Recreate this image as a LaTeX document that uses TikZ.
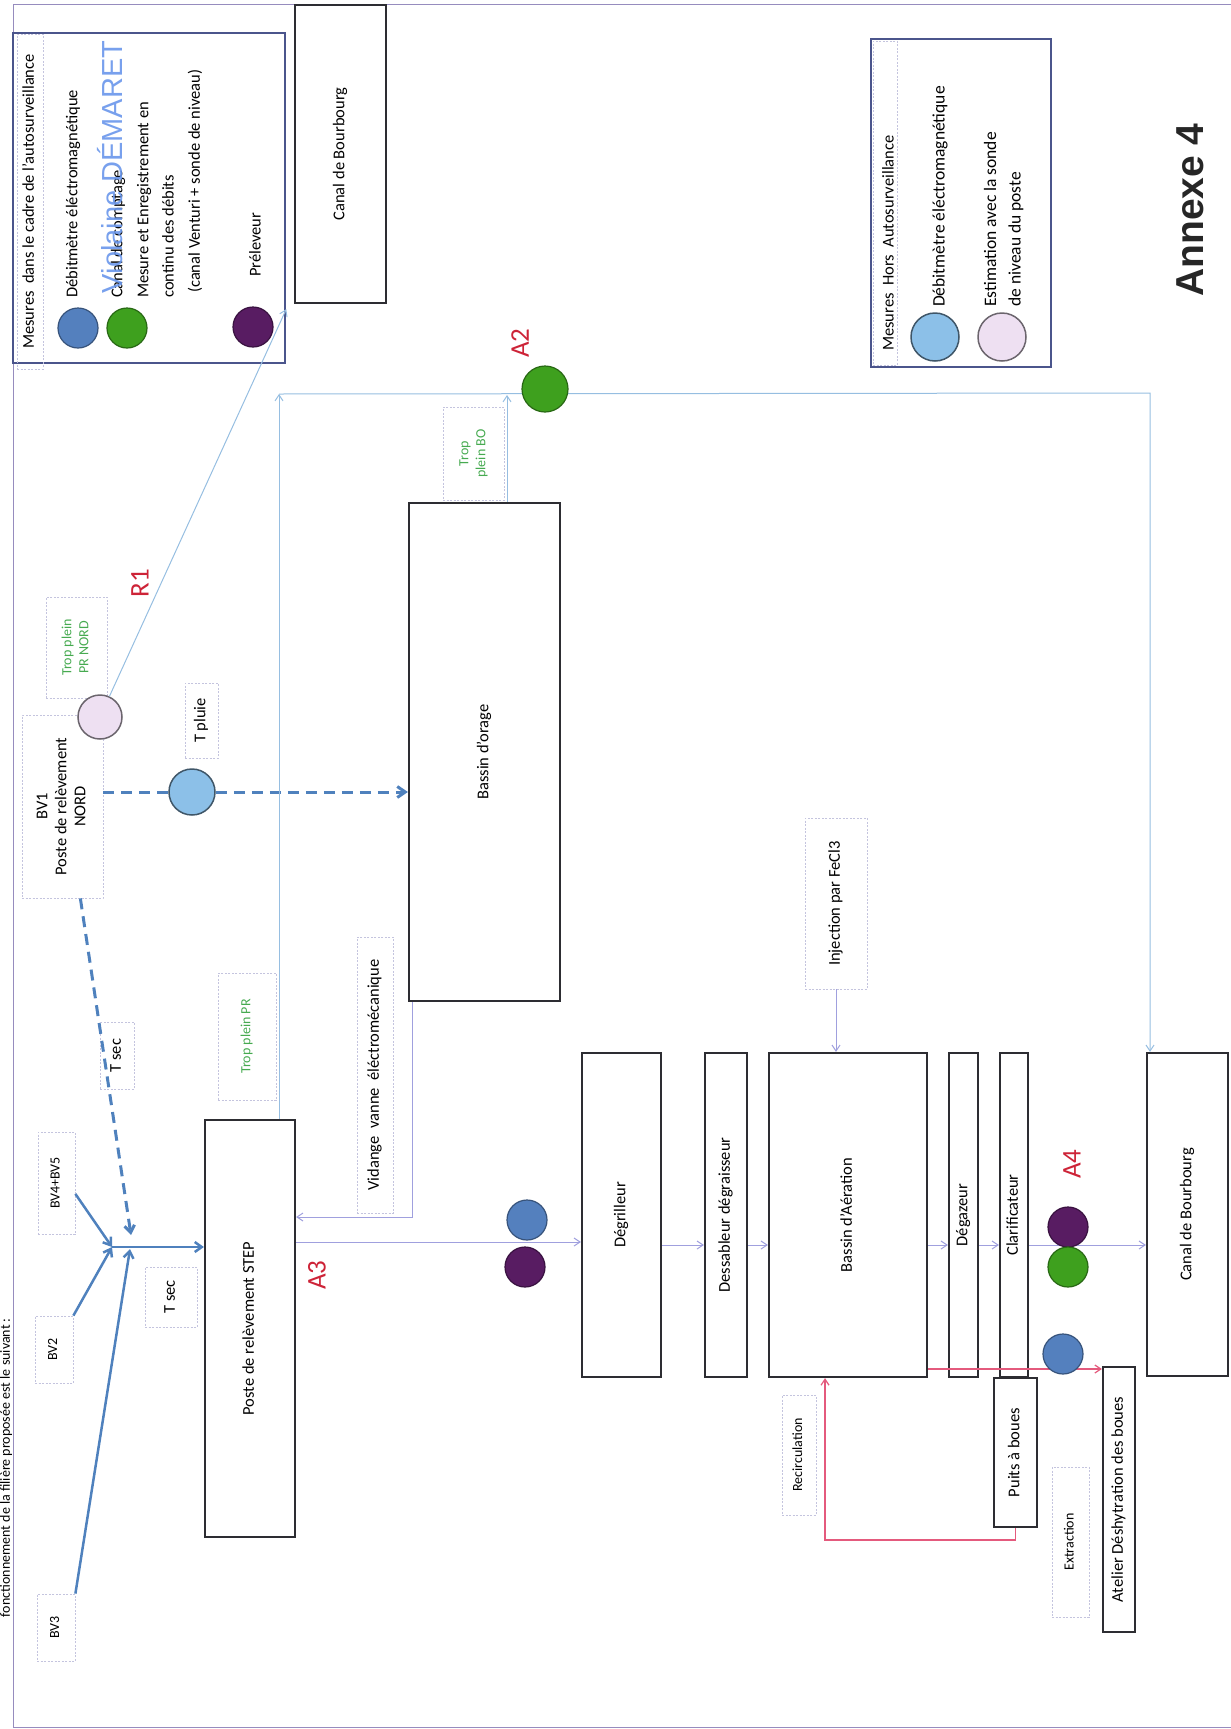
\documentclass[tikz,border=0pt]{standalone}
\usepackage{fontspec}
\setmainfont{Carlito}
\newfontfamily\arialfont{Liberation Sans}
\usepackage{graphicx}
\usetikzlibrary{arrows.meta,calc}
\definecolor{boxgray}{RGB}{45,45,50}
\definecolor{lblline}{RGB}{196,196,222}
\definecolor{flowline}{RGB}{160,160,222}
\definecolor{skyline}{RGB}{150,190,225}
\definecolor{bvblue}{RGB}{79,129,189}
\definecolor{sludgec}{RGB}{228,90,125}
\definecolor{mesblue}{RGB}{84,128,190}
\definecolor{mesgreen}{RGB}{62,160,30}
\definecolor{mespurple}{RGB}{88,28,98}
\definecolor{estblue}{RGB}{140,192,232}
\definecolor{estpink}{RGB}{238,224,242}
\definecolor{txtgreen}{RGB}{70,170,80}
\definecolor{labred}{RGB}{205,35,55}
\definecolor{stamp}{RGB}{105,150,235}
\definecolor{legline}{RGB}{75,85,140}
\definecolor{framec}{RGB}{150,140,190}
\newcommand{\vtxt}[1]{\rotatebox{90}{\begin{tabular}{@{}c@{}}#1\end{tabular}}}
\tikzset{
  unit/.style={draw=boxgray, line width=2.2pt, inner sep=0pt},
  lbl/.style={draw=lblline, line width=0.8pt, dash pattern=on 2pt off 1.5pt, inner sep=0pt},
  legbox/.style={draw=legline, line width=2.5pt, inner sep=0pt},
  txt/.style={inner sep=0pt},
  big/.style={font=\fontsize{17.5}{20}\selectfont},
  small/.style={font=\fontsize{14}{16}\selectfont},
  greentxt/.style={text=txtgreen, font=\fontsize{14}{17}\selectfont},
  tag/.style={text=labred, inner sep=0pt, font=\fontsize{27}{29}\selectfont},
  mes/.style={circle, fill=#1, draw=#1!65!black, line width=1.2pt, minimum size=40pt, inner sep=0pt},
  est/.style={circle, fill=#1, draw=#1!45!black, line width=1.5pt, minimum size=46pt, inner sep=0pt},
  flow/.style={draw=flowline, line width=1pt, -{Straight Barb[length=6pt,width=8pt]}},
  skyflow/.style={draw=skyline, line width=1pt, -{Straight Barb[length=6pt,width=8pt]}},
  bvflow/.style={draw=bvblue, line width=2.5pt, -{Straight Barb[length=7pt,width=10pt]}},
  bvdash/.style={draw=bvblue, line width=3pt, dash pattern=on 11pt off 7pt},
  sludge/.style={draw=sludgec, line width=1.2pt, -{Straight Barb[length=6pt,width=8pt]}}
}
\begin{document}
\begin{tikzpicture}[x=1pt, y=-1pt, every node/.style={font=\fontsize{16.5}{19}\selectfont}]
\useasboundingbox (0,0) rectangle (1231,1729);
\draw[framec, line width=1pt] (1231,4) -- (13,4) -- (13,1727) -- (1231,1727);
\node[txt, anchor=north west, font=\fontsize{14}{16}\selectfont] (intro) at (0,1318) {\rotatebox{90}{fonctionnement de la filière proposée est le suivant :}};

\node[legbox, minimum width=272pt, minimum height=330pt] (auto) at (149,198) {};
\node[lbl, minimum width=26pt, minimum height=335pt] (autohead) at (30,201.5) {\vtxt{Mesures\ \ dans le cadre de l'autosurveillance}};
\node[mes=mesblue] (lgblue) at (78,328) {};
\node[mes=mesgreen] (lggreen) at (127,328) {};
\node[mes=mespurple] (lgpurple) at (253,327) {};
\node[txt, anchor=south] (lt1) at (73,298) {\rotatebox{90}{Débitmètre éléctromagnétique}};
\node[txt, anchor=south] (lt2) at (118,298) {\rotatebox{90}{Canal de comptage}};
\node[txt, anchor=south] (lt3) at (144,298) {\rotatebox{90}{Mesure et Enregistrement en}};
\node[txt, anchor=south] (lt4) at (168,298) {\rotatebox{90}{continu des débits}};
\node[txt, anchor=south] (lt5) at (195,293) {\rotatebox{90}{(canal Venturi + sonde de niveau)}};
\node[txt, anchor=south] (lt6) at (255,277) {\rotatebox{90}{Préleveur}};
\node[txt, text=stamp, opacity=0.9, font=\arialfont\fontsize{29}{30}\selectfont] (stampmark) at (110,167) {\rotatebox{90}{Violaine DÉMARET}};

\node[unit, minimum width=91pt, minimum height=298pt] (canal1) at (340.5,154) {\vtxt{Canal de Bourbourg}};

\node[legbox, minimum width=180pt, minimum height=328pt] (hors) at (961,203) {};
\node[lbl, minimum width=24pt, minimum height=324pt] (horshead) at (885,203) {};
\node[txt, anchor=south] (ht0) at (888,351) {\rotatebox{90}{Mesures\ \ Hors\ \ Autosurveillance}};
\node[est=estblue, minimum size=48pt] (lgest1) at (935,337) {};
\node[est=estpink, minimum size=48pt] (lgest2) at (1002,337) {};
\node[txt, big, anchor=south] (ht1) at (940,307) {\rotatebox{90}{Débitmètre éléctromagnétique}};
\node[txt, big, anchor=south] (ht2) at (990,307) {\rotatebox{90}{Estimation avec la sonde}};
\node[txt, big, anchor=south] (ht3) at (1016,307) {\rotatebox{90}{de niveau du poste}};

\node[txt, text=black!85, font=\arialfont\bfseries\fontsize{39}{40}\selectfont] (annexe) at (1190,210) {\rotatebox{90}{Annexe 4}};

\node[lbl, minimum width=81pt, minimum height=183pt] (bv1) at (62.5,806.5) {\vtxt{BV1\\Poste de relèvement\\NORD}};
\node[lbl, greentxt, minimum width=61pt, minimum height=101pt] (tpnord) at (76.5,647.5) {\vtxt{Trop plein\\PR NORD}};
\node[est=estpink, minimum size=44pt] (mpr) at (100,717) {};
\node[tag] (r1) at (140,583) {\rotatebox{90}{R1}};
\node[lbl, minimum width=33pt, minimum height=75pt] (tpluie) at (201.5,720.5) {\vtxt{T pluie}};
\node[est=estblue] (mplu) at (192,792) {};
\node[unit, minimum width=151pt, minimum height=498pt] (bo) at (484.5,752) {\vtxt{Bassin d'orage}};
\node[lbl, greentxt, minimum width=61pt, minimum height=93pt] (tpbo) at (473.5,453.5) {\vtxt{Trop\\plein BO}};
\node[tag] (a2) at (520,343) {\rotatebox{90}{A2}};
\node[lbl, minimum width=36pt, minimum height=276pt] (vid) at (375,1075) {\vtxt{Vidange\ \ vanne\ \ éléctromécanique}};
\node[lbl, greentxt, minimum width=58pt, minimum height=127pt] (tppr) at (247,1036.5) {\vtxt{Trop plein PR}};
\node[lbl, minimum width=34pt, minimum height=67pt] (tsec1) at (117,1055.5) {\vtxt{T sec}};
\node[lbl, small, minimum width=37pt, minimum height=102pt] (bv45) at (56.5,1183) {\vtxt{BV4+BV5}};
\node[lbl, small, minimum width=38pt, minimum height=67pt] (bv2) at (54,1349.5) {\vtxt{BV2}};
\node[lbl, small, minimum width=38pt, minimum height=67pt] (bv3) at (56,1627.5) {\vtxt{BV3}};
\node[lbl, minimum width=52pt, minimum height=60pt] (tsec2) at (171,1297) {\vtxt{T sec}};
\node[unit, minimum width=90pt, minimum height=417pt] (step) at (250,1328.5) {\vtxt{Poste de relèvement STEP}};
\node[tag] (a3) at (317,1275) {\rotatebox{90}{A3}};

\node[unit, minimum width=79pt, minimum height=324pt] (degr) at (621.5,1215) {\vtxt{Dégrilleur}};
\node[unit, minimum width=42pt, minimum height=324pt] (dess) at (726,1215) {\vtxt{Dessableur dégraisseur}};
\node[unit, minimum width=158pt, minimum height=324pt] (aer) at (848,1215) {\vtxt{Bassin d'Aération}};
\node[unit, minimum width=29pt, minimum height=324pt] (degaz) at (963.5,1215) {\vtxt{Dégazeur}};
\node[unit, minimum width=28pt, minimum height=324pt] (clar) at (1014,1215) {\vtxt{Clarificateur}};
\node[unit, minimum width=81pt, minimum height=323pt] (canal2) at (1187.5,1214.5) {\vtxt{Canal de Bourbourg}};
\node[lbl, minimum width=62pt, minimum height=171pt] (fecl) at (836,903.5) {\vtxt{Injection par FeCl3}};
\node[unit, minimum width=43pt, minimum height=149pt] (puits) at (1015.5,1452.5) {\vtxt{Puits à boues}};
\node[unit, minimum width=32pt, minimum height=265pt] (atel) at (1119,1499.5) {\vtxt{Atelier\ Déshytration\ des\ boues}};
\node[lbl, small, minimum width=34pt, minimum height=120pt] (recirc) at (799,1455) {\vtxt{Recirculation}};
\node[lbl, small, minimum width=37pt, minimum height=150pt] (extr) at (1070.5,1542) {\vtxt{Extraction}};
\node[tag] (a4) at (1072,1164) {\rotatebox{90}{A4}};

\coordinate (jA) at (112,1247);
\coordinate (jB) at (130,1249);
\coordinate (jC) at (131,1235);
\draw[bvflow] (bv45.-30) -- (jA);
\draw[bvflow] (bv2.north east) -- (jA);
\draw[bvflow] (bv3.north east) -- (jB);
\draw[bvdash, -{Straight Barb[length=7pt,width=10pt]}] (bv1.-79) -- (jC);
\draw[bvflow] (jA) -- (jA -| step.west);
\draw[bvdash] (bv1.east |- mplu) -- (mplu);
\draw[bvdash, -{Straight Barb[length=8pt,width=11pt]}] (mplu) -- (mplu -| bo.west);

\draw[skyflow] (mpr) -- (auto.-39);
\coordinate (tpTop) at (279,394);
\coordinate (cR) at (1150,393);
\coordinate (boTop) at (507,395);
\draw[skyflow] (tpTop |- step.north) -- (tpTop);
\draw[skyflow] (boTop |- bo.north) -- (boTop);
\draw[skyflow] (tpTop) -- (cR) -- (cR |- canal2.north);

\coordinate (vidc) at (412,1217);
\draw[flow] (vidc |- bo.south) -- (vidc) -- (vidc -| step.east);
\coordinate (mainy) at (0,1242);
\draw[flow] (step.east |- mainy) -- (degr.west |- mainy);
\coordinate (procy) at (0,1245);
\foreach \a/\b in {degr/dess, dess/aer, aer/degaz, degaz/clar, clar/canal2}
  \draw[flow] (\a.east |- procy) -- (\b.west |- procy);
\draw[flow] (fecl.south) -- (fecl.south |- aer.north);

\coordinate (sly) at (0,1369);
\draw[sludge] (aer.east |- sly) -- (atel.west |- sly);
\coordinate (rc) at (825,1540);
\draw[sludge] (puits.south) -- (puits.south |- rc) -- (rc) -- (rc |- aer.south);

\node[mes=mesgreen, minimum size=46pt] (mA2) at (545,389) {};
\node[mes=mesblue] (mA3a) at (527,1220) {};
\node[mes=mespurple] (mA3b) at (525,1267) {};
\node[mes=mespurple] (mA4a) at (1068,1227) {};
\node[mes=mesgreen] (mA4b) at (1068,1267) {};
\node[mes=mesblue] (mA4c) at (1063,1354) {};
\end{tikzpicture}
\end{document}
